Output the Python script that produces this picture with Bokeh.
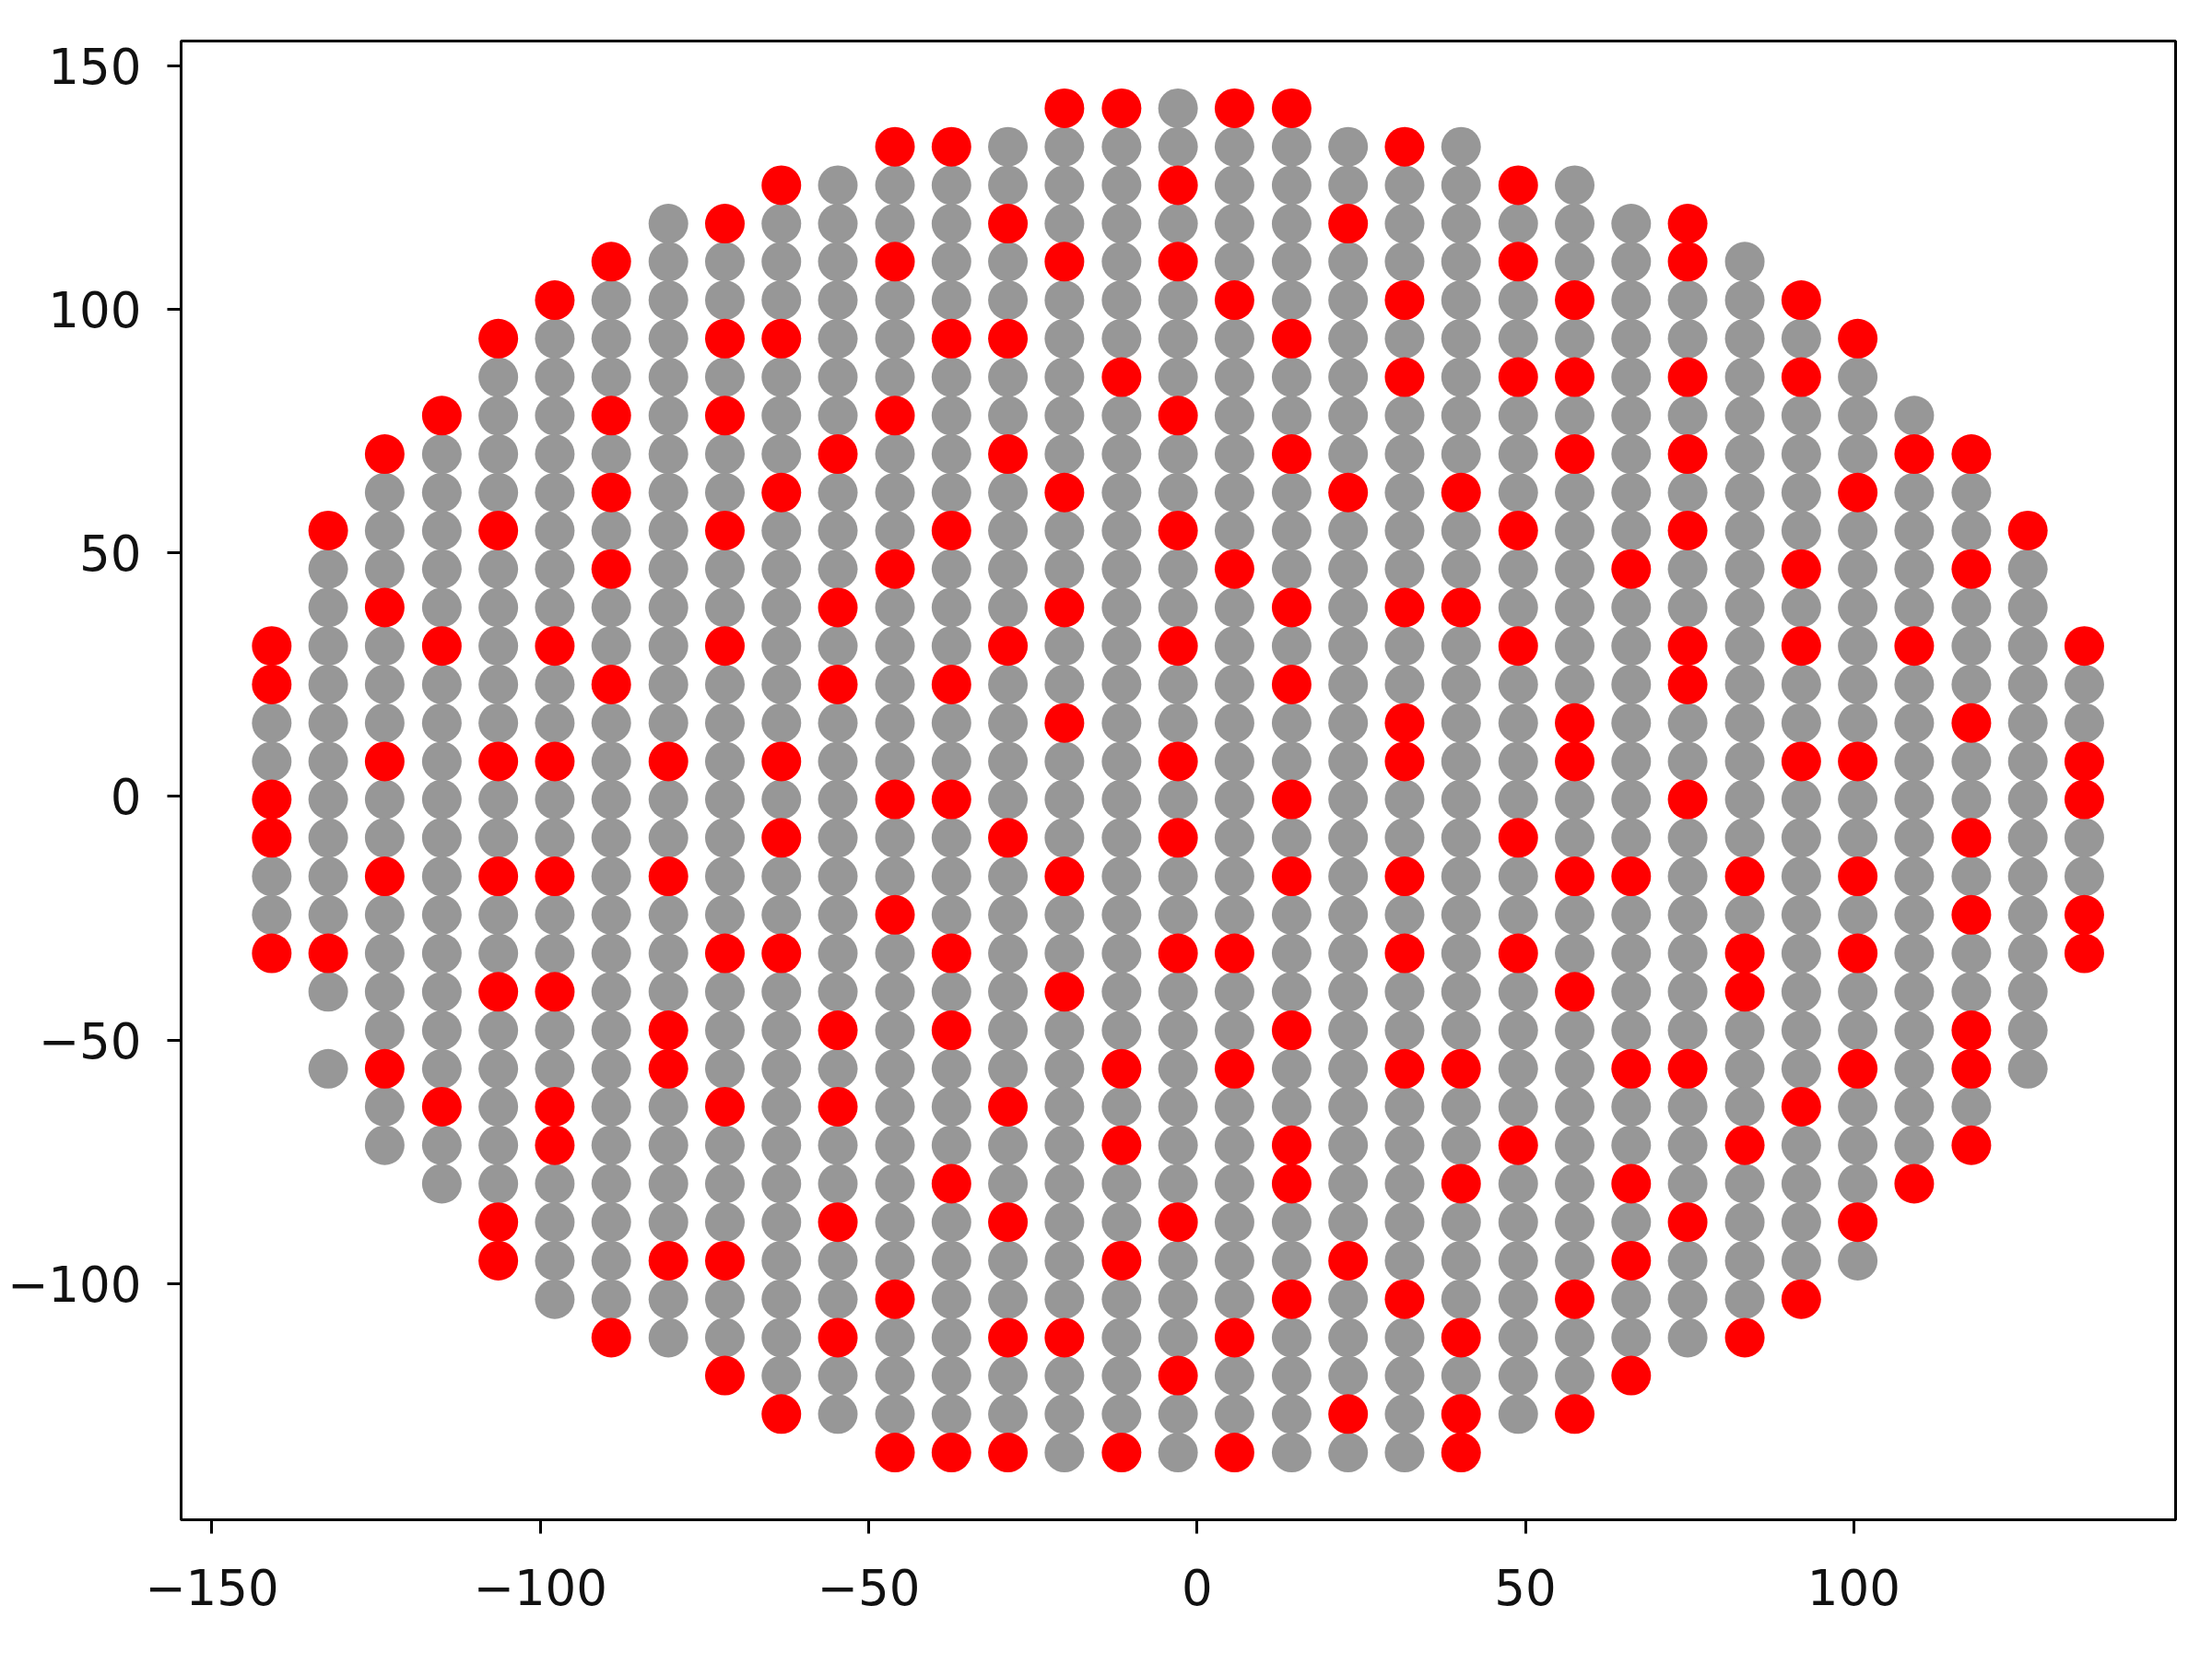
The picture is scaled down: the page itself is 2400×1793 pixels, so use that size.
from bokeh.plotting import figure
from bokeh.models import Range1d, FixedTicker, CustomJSTickFormatter
from bokeh.embed import file_html
from bokeh.resources import INLINE

# Die column x-positions and row y-positions
x_cols = [-140.9, -132.3, -123.7, -115.0, -106.4, -97.8, -89.2, -80.5, -71.9, -63.3, -54.7,
          -46.0, -37.4, -28.8, -20.2, -11.5, -2.9, 5.7, 14.4, 23.0, 31.6, 40.2,
          48.9, 57.5, 66.1, 74.7, 83.4, 92.0, 100.6, 109.2, 117.9, 126.5, 135.1]
y_rows = [141.3, 133.4, 125.5, 117.6, 109.8, 101.9, 94.0, 86.1, 78.2, 70.3, 62.4, 54.6,
          46.7, 38.8, 30.9, 23.0, 15.1, 7.2, -0.6, -8.5, -16.4, -24.3, -32.2, -40.1,
          -48.0, -55.9, -63.7, -71.6, -79.5, -87.4, -95.3, -103.2, -111.1, -118.9, -126.8, -134.7]

# First and last row index present in each column
col_first_row = [14, 11, 9, 8, 6, 5, 4, 3, 3, 2, 2, 1, 1, 1, 0, 0, 0, 0, 0, 1, 1, 1, 2, 2, 3, 3, 4, 5, 6, 8, 9, 11, 14]
col_last_row = [22, 25, 27, 28, 30, 31, 32, 32, 33, 34, 34, 35, 35, 35, 35, 35, 35, 35, 35, 35, 35, 35, 34, 34, 33, 32, 32, 31, 30, 28, 27, 25, 22]
missing_dies = [(1, 24)]

# Red (failing) dies: row indices per column
red_rows = {
    0: [14, 15, 18, 19, 22],
    1: [11, 22],
    2: [9, 13, 17, 20, 25],
    3: [8, 14, 26],
    4: [6, 11, 17, 20, 23, 29, 30],
    5: [5, 14, 17, 20, 23, 26, 27],
    6: [4, 8, 10, 12, 15, 32],
    7: [17, 20, 24, 25, 30],
    8: [3, 6, 8, 11, 14, 22, 26, 30, 33],
    9: [2, 6, 10, 17, 19, 22, 34],
    10: [9, 13, 15, 24, 26, 29, 32],
    11: [1, 4, 8, 12, 18, 21, 31, 35],
    12: [1, 6, 11, 15, 18, 22, 24, 28, 35],
    13: [3, 6, 9, 14, 19, 26, 29, 32, 35],
    14: [0, 4, 10, 13, 16, 20, 23, 32],
    15: [0, 7, 25, 27, 30, 35],
    16: [2, 4, 8, 11, 14, 17, 19, 22, 29, 33],
    17: [0, 5, 12, 22, 25, 32, 35],
    18: [0, 6, 9, 13, 15, 18, 20, 24, 27, 28, 31],
    19: [3, 10, 30, 34],
    20: [1, 5, 7, 13, 16, 17, 20, 22, 25, 31],
    21: [10, 13, 25, 28, 32, 34, 35],
    22: [2, 4, 7, 11, 14, 19, 22, 27],
    23: [5, 7, 9, 16, 17, 20, 23, 31, 34],
    24: [12, 20, 25, 28, 30, 33],
    25: [3, 4, 7, 9, 11, 14, 15, 18, 25, 29],
    26: [20, 22, 23, 27, 32],
    27: [5, 7, 12, 14, 17, 26, 31],
    28: [6, 10, 17, 20, 22, 25, 29],
    29: [9, 14, 28],
    30: [9, 12, 16, 19, 21, 24, 25, 27],
    31: [11],
    32: [14, 17, 18, 21, 22],
}

x_ticks = [-150, -100, -50, 0, 50, 100]
y_ticks = [-100, -50, 0, 50, 100, 150]

grey_x, grey_y, red_x, red_y = [], [], [], []
for k, xv in enumerate(x_cols):
    reds = set(red_rows.get(k, []))
    for j in range(col_first_row[k], col_last_row[k] + 1):
        if (k, j) in missing_dies:
            continue
        if j in reds:
            red_x.append(xv); red_y.append(y_rows[j])
        else:
            grey_x.append(xv); grey_y.append(y_rows[j])

p = figure(width=2384, height=1770, output_backend="svg", toolbar_location=None,
           x_range=Range1d(-154.7, 149.0), y_range=Range1d(-148.5, 155.1),
           min_border_left=196, min_border_top=44, min_border_right=24, min_border_bottom=122,
           background_fill_color="white", border_fill_color="white")

p.scatter(grey_x, grey_y, size=43, fill_color="#979797", line_color=None)
p.scatter(red_x, red_y, size=43, fill_color="#ff0000", line_color=None)

p.xgrid.visible = False
p.ygrid.visible = False
p.outline_line_color = "black"
p.outline_line_width = 3

p.xaxis.ticker = FixedTicker(ticks=x_ticks)
p.yaxis.ticker = FixedTicker(ticks=y_ticks)
fmt = CustomJSTickFormatter(code="return tick < 0 ? '\u2212' + Math.abs(tick) : String(tick);")
for ax in (p.xaxis[0], p.yaxis[0]):
    ax.formatter = fmt
    ax.axis_line_color = "black"
    ax.axis_line_width = 3
    ax.major_tick_line_color = "black"
    ax.major_tick_line_width = 3
    ax.major_tick_out = 15
    ax.major_tick_in = 0
    ax.minor_tick_line_color = None
    ax.major_label_text_font = "DejaVu Sans"
    ax.major_label_text_font_size = "53px"
    ax.major_label_text_color = "#111111"
p.yaxis.major_label_standoff = 28
p.xaxis.major_label_standoff = 38

open("out.html", "w").write(file_html(p, INLINE))
